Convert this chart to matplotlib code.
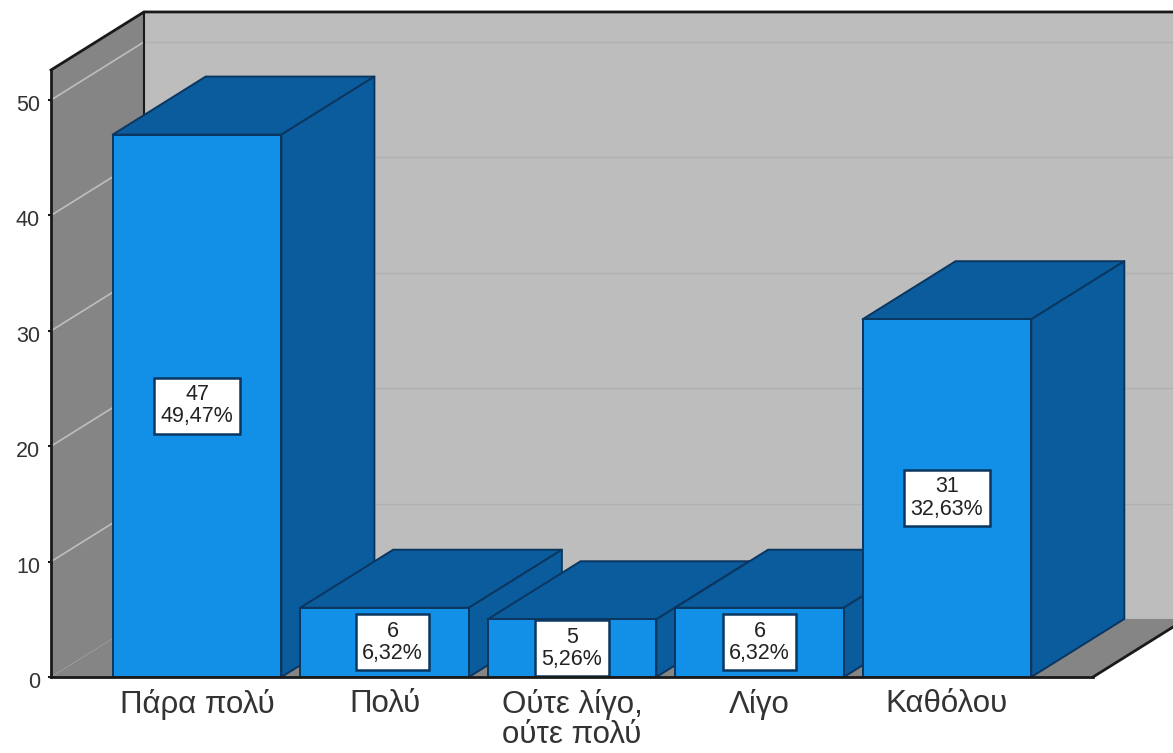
import matplotlib
matplotlib.use('Agg')
import matplotlib.pyplot as plt
from matplotlib.patches import Polygon
from matplotlib.transforms import ScaledTranslation

categories = ['Πάρα πολύ', 'Πολύ', 'Ούτε λίγο,\nούτε πολύ', 'Λίγο', 'Καθόλου']
counts = [47, 6, 5, 6, 31]
percents = ['49,47%', '6,32%', '5,26%', '6,32%', '32,63%']
y_ticks = [0, 10, 20, 30, 40, 50]

BAR_WIDTH = 0.9
DEPTH_X = 0.496
DEPTH_Y = 5.03
X_MIN, X_MAX = -0.779, 4.779
Y_MAX = 52.6

FRONT = '#1290E8'
SHADE = '#0B5C9C'
BAR_EDGE = '#0A3660'
BACK_WALL = '#BDBDBD'
SIDE_WALL = '#858585'
LINE = '#1A1A1A'

plt.rcParams['font.family'] = ['Liberation Sans', 'DejaVu Sans']

fig = plt.figure(figsize=(11.73, 7.53), dpi=100)
ax = fig.add_axes([51 / 1173, 76 / 753, 1042 / 1173, 607 / 753])
ax.set_xlim(X_MIN, X_MAX)
ax.set_ylim(0, Y_MAX)
ax.set_facecolor('none')


def poly(points, color, edge='none', lw=0.0, z=1):
    ax.add_patch(Polygon(points, closed=True, facecolor=color, edgecolor=edge,
                         linewidth=lw, clip_on=False, zorder=z, joinstyle='round'))


# walls and floor
poly([(X_MIN + DEPTH_X, DEPTH_Y), (X_MAX + DEPTH_X, DEPTH_Y),
      (X_MAX + DEPTH_X, Y_MAX + DEPTH_Y), (X_MIN + DEPTH_X, Y_MAX + DEPTH_Y)], BACK_WALL)
poly([(X_MIN, 0), (X_MIN + DEPTH_X, DEPTH_Y),
      (X_MIN + DEPTH_X, Y_MAX + DEPTH_Y), (X_MIN, Y_MAX)], SIDE_WALL)
poly([(X_MIN, 0), (X_MAX, 0), (X_MAX + DEPTH_X, DEPTH_Y), (X_MIN + DEPTH_X, DEPTH_Y)], SIDE_WALL)

# gridlines on the walls
for v in y_ticks[1:]:
    ax.plot([X_MIN, X_MIN + DEPTH_X], [v, v + DEPTH_Y], color='#BEBEBE', lw=1.2,
            clip_on=False, zorder=1.5)
    ax.plot([X_MIN + DEPTH_X, X_MAX + DEPTH_X], [v + DEPTH_Y, v + DEPTH_Y], color='#B0B0B0',
            lw=1.0, clip_on=False, zorder=1.5)

# frame of the walls
ax.plot([X_MIN, X_MIN + DEPTH_X, X_MAX + DEPTH_X], [Y_MAX, Y_MAX + DEPTH_Y, Y_MAX + DEPTH_Y],
        color=LINE, lw=2, clip_on=False, zorder=1.6)
ax.plot([X_MIN + DEPTH_X, X_MIN + DEPTH_X], [DEPTH_Y, Y_MAX + DEPTH_Y],
        color=LINE, lw=1.5, clip_on=False, zorder=1.6)
ax.plot([X_MAX, X_MAX + DEPTH_X], [0, DEPTH_Y], color=LINE, lw=2, clip_on=False, zorder=1.6)

# bars go left to right so each one covers the side of the previous one
for i, v in enumerate(counts):
    x0 = i - BAR_WIDTH / 2
    x1 = i + BAR_WIDTH / 2
    z = 2 + i * 0.1
    poly([(x0, v), (x1, v), (x1 + DEPTH_X, v + DEPTH_Y), (x0 + DEPTH_X, v + DEPTH_Y)],
         SHADE, BAR_EDGE, 1.4, z)
    poly([(x1, 0), (x1 + DEPTH_X, DEPTH_Y), (x1 + DEPTH_X, v + DEPTH_Y), (x1, v)],
         SHADE, BAR_EDGE, 1.4, z)
    poly([(x0, 0), (x1, 0), (x1, v), (x0, v)], FRONT, BAR_EDGE, 1.4, z)

# value labels, the one on the second bar sits a bit to the right in the original
label_shift = [0, 0.043, 0, 0, 0]
for i, v in enumerate(counts):
    ax.text(i + label_shift[i], v / 2, f'{v}\n{percents[i]}', ha='center', va='center',
            fontsize=15.5, color='#222222', linespacing=1.08, zorder=4,
            bbox=dict(boxstyle='square,pad=0.3', facecolor='white', edgecolor=BAR_EDGE, linewidth=1.8))

ax.set_xticks(range(len(categories)))
ax.set_xticklabels(categories, fontsize=22.5, color='#333333', linespacing=0.98)
ax.tick_params(axis='x', length=0, pad=9)
ax.set_yticks(y_ticks)
ax.tick_params(axis='y', length=2, width=1.5, pad=6, labelsize=15.5, labelcolor='#333333', color=LINE)

# the tick numbers sit slightly below their gridlines
for label in ax.get_yticklabels():
    label.set_transform(label.get_transform() + ScaledTranslation(0, -3 / 100, fig.dpi_scale_trans))

for side in ['top', 'right']:
    ax.spines[side].set_visible(False)
ax.spines['left'].set_linewidth(2)
ax.spines['left'].set_color(LINE)
ax.spines['bottom'].set_linewidth(2)
ax.spines['bottom'].set_color(LINE)
ax.spines['left'].set_zorder(1.7)
ax.spines['bottom'].set_zorder(5)

fig.savefig('out.png', dpi=100)
